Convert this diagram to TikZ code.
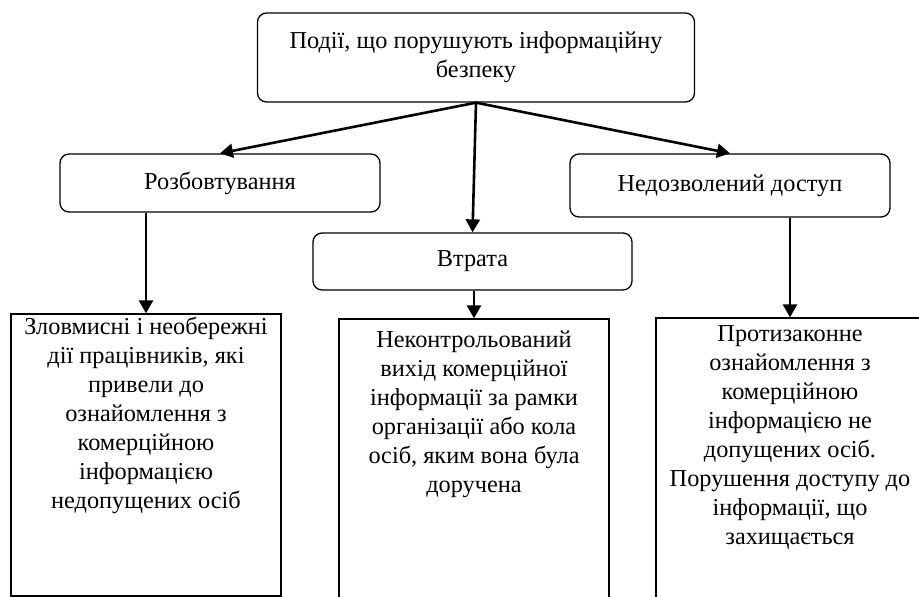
\documentclass[tikz,border=0pt]{standalone}
\usepackage{fontspec}
\setmainfont{Liberation Serif}
\usetikzlibrary{arrows.meta,calc}
\begin{document}
\begin{tikzpicture}[x=1pt,y=-1pt,
  every node/.style={font=\fontsize{24.3}{29}\selectfont},
  rbox/.style={draw, line width=1.3pt, rounded corners=9pt, align=center, inner sep=0pt},
  sbox/.style={draw, line width=1.3pt, inner sep=0pt},
  btext/.style={inner sep=0pt, anchor=base},
  arr/.style={line width=2.6pt, -{Triangle[length=13pt,width=14pt]}}]
\useasboundingbox (0,0) rectangle (919,597);
\clip (0,0) rectangle (919,597);
% top
\node[rbox, minimum width=437pt, minimum height=89pt] (top) at (476,57.5) {Події, що порушують інформаційну\\безпеку};
% second level
\node[rbox, minimum width=320pt, minimum height=58pt] (rozb) at (220,183) {Розбовтування};
\node[rbox, minimum width=319pt, minimum height=57pt] (vtr) at (472.5,261.5) {Втрата};
\node[rbox, minimum width=320pt, minimum height=63pt] (ned) at (730,185.5) {Недозволений доступ};
% bottom boxes
\node[sbox, minimum width=270pt, minimum height=282pt] (lb) at (146,455) {};
\node[sbox, minimum width=270pt, minimum height=321pt] (mb) at (474,479.5) {};
\node[sbox, minimum width=268pt, minimum height=322pt] (rb) at (790,479) {};
% texts
\node[btext] (lt) at ($(lb.north)+(0,21)$) {\begin{tabular}[t]{@{}c@{}}Зловмисні і необережні\\дії працівників, які\\привели до\\ознайомлення з\\комерційною\\інформацією\\недопущених осіб\end{tabular}};
\node[btext] (mt) at ($(mb.north)+(0,29)$) {\begin{tabular}[t]{@{}c@{}}Неконтрольований\\вихід комерційної\\інформації за рамки\\організації або кола\\осіб, яким вона була\\доручена\end{tabular}};
\node[btext] (rt) at ($(rb.north)+(0,24)$) {\begin{tabular}[t]{@{}c@{}}Протизаконне\\ознайомлення з\\комерційною\\інформацією не\\допущених осіб.\\Порушення доступу до\\інформації, що\\захищається\end{tabular}};
% arrows
\draw[arr] (top.south) -- (rozb.north);
\draw[arr] (top.south) -- (vtr.north);
\draw[arr] (top.south) -- (ned.north);
\draw[arr] (rozb.south -| lb.north) -- (lb.north);
\draw[arr] (vtr.south -| mb.north) -- (mb.north);
\draw[arr] (ned.south -| rb.north) -- (rb.north);
\end{tikzpicture}
\end{document}
